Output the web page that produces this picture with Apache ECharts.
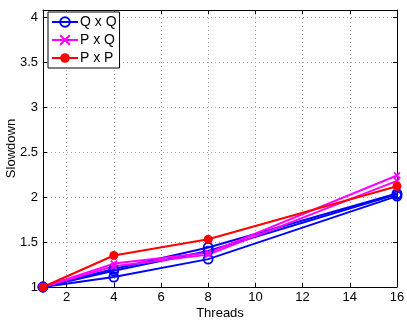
<!DOCTYPE html>
<html>
<head>
<meta charset="utf-8">
<script src="https://cdn.jsdelivr.net/npm/echarts@6/dist/echarts.min.js"></script>
<style>html,body{margin:0;padding:0;background:#fff}#c{width:407px;height:322px}</style>
</head>
<body>
<div id="c"></div>
<script>
var threads = [1, 4, 8, 16];
var xTicks = [2, 4, 6, 8, 10, 12, 14, 16];
var qxq1 = [1, 1.11, 1.31, 2.01];
var qxq2 = [1, 1.18, 1.40, 2.03];
var qxq3 = [1, 1.20, 1.44, 2.04];
var pxq1 = [1, 1.26, 1.38, 2.24];
var pxq2 = [1, 1.23, 1.36, 2.18];
var pxp1 = [1, 1.35, 1.53, 2.12];

function pts(arr) { return threads.map(function (t, i) { return [t, arr[i]]; }); }
var font = 'Liberation Sans, Arial, Helvetica, sans-serif';
var xPath = 'path://M0,0L10,10M10,0L0,10';

function mk(name, data, color, symbol, size, fill, bw) {
  return {
    name: name, type: 'line', data: pts(data), xAxisIndex: 0, yAxisIndex: 0,
    symbol: symbol, symbolSize: size, showAllSymbol: true,
    lineStyle: { color: color, width: 2 },
    itemStyle: { color: fill, borderColor: color, borderWidth: bw },
    emphasis: { disabled: true }, animation: false
  };
}
var series = [
  mk('Q x Q', qxq1, '#0000ff', 'circle', 9, 'rgba(255,255,255,0)', 1.8),
  mk('Q x Q', qxq2, '#0000ff', 'circle', 9, 'rgba(255,255,255,0)', 1.8),
  mk('Q x Q', qxq3, '#0000ff', 'circle', 9, 'rgba(255,255,255,0)', 1.8),
  mk('P x Q', pxq1, '#ff00ff', xPath, 6, '#ff00ff', 1.8),
  mk('P x Q', pxq2, '#ff00ff', xPath, 6, '#ff00ff', 1.8),
  mk('P x P', pxp1, '#ff0000', 'circle', 9, '#ff0000', 0)
];

var chart = echarts.init(document.getElementById('c'));
chart.setOption({
  animation: false,
  backgroundColor: '#fff',
  grid: { left: 43, right: 10, top: 10, bottom: 35, outerBoundsMode: 'none', containLabel: false },
  legend: {
    left: 48, top: 12, orient: 'vertical',
    data: ['Q x Q', 'P x Q', 'P x P'],
    backgroundColor: '#fff', borderColor: '#000', borderWidth: 1,
    padding: [3, 3, 3, 3], itemGap: 4, itemWidth: 26, itemHeight: 12,
    textStyle: { fontFamily: font, fontSize: 14, color: '#000', padding: [0, 0, 0, -3] }
  },
  xAxis: [{
    type: 'value', min: 1, max: 16, position: 'bottom',
    name: 'Threads', nameLocation: 'middle', nameGap: 20, nameMoveOverlap: false,
    nameTextStyle: { fontFamily: font, fontSize: 13, color: '#000' },
    axisLine: { lineStyle: { color: '#000', width: 1 } },
    axisTick: { inside: true, length: 4, lineStyle: { color: '#000' }, customValues: xTicks },
    axisLabel: { customValues: xTicks, fontFamily: font, fontSize: 13, color: '#000', margin: 4 },
    splitLine: { show: true, lineStyle: { color: '#aaa', type: [1, 3], width: 1 } }
  }, {
    type: 'value', min: 1, max: 16, position: 'top',
    axisLine: { lineStyle: { color: '#000', width: 1 } },
    axisTick: { inside: true, length: 4, lineStyle: { color: '#000' }, customValues: xTicks },
    axisLabel: { show: false, customValues: xTicks },
    splitLine: { show: false }
  }],
  yAxis: [{
    type: 'value', min: 1, max: 4.08, interval: 0.5, position: 'left',
    name: 'Slowdown', nameLocation: 'middle', nameGap: 25, nameMoveOverlap: false,
    nameTextStyle: { fontFamily: font, fontSize: 13, color: '#000' },
    axisLine: { show: true, lineStyle: { color: '#000', width: 1 } },
    axisTick: { show: true, inside: true, length: 4, lineStyle: { color: '#000' } },
    axisLabel: { fontFamily: font, fontSize: 13, color: '#000', margin: 5, showMaxLabel: false,
      formatter: function (v) { return (Math.abs(v * 2 - Math.round(v * 2)) < 1e-6) ? String(v) : ''; } },
    splitLine: { show: true, lineStyle: { color: '#aaa', type: [1, 3], width: 1 } }
  }, {
    type: 'value', min: 1, max: 4.08, interval: 0.5, position: 'right',
    axisLine: { show: true, lineStyle: { color: '#000', width: 1 } },
    axisTick: { show: true, inside: true, length: 4, lineStyle: { color: '#000' } },
    axisLabel: { show: false },
    splitLine: { show: false }
  }],
  series: series
});
</script>
</body>
</html>
